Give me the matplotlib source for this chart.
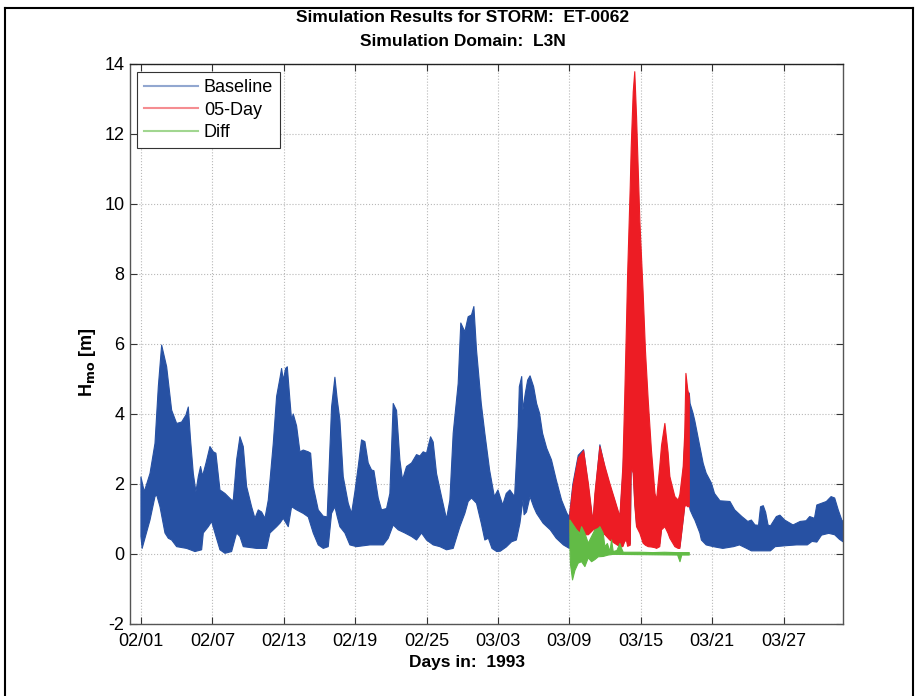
import numpy as np
import matplotlib.pyplot as plt
from matplotlib.lines import Line2D

plt.rcParams['font.family'] = ['Liberation Sans', 'DejaVu Sans']
plt.rcParams['axes.unicode_minus'] = False

# Days since 02/01/1993; each series is an envelope (upper / lower) of Hmo in metres
base_up_day = [0.0, 0.28, 0.76, 1.18, 1.46, 1.74, 2.16, 2.58, 3.0, 3.42, 3.78, 3.98, 4.17, 4.4,
               4.62, 4.82, 5.01, 5.18, 5.46, 5.8, 6.08, 6.3, 6.64, 7.06, 7.62, 7.76, 8.04, 8.32,
               8.6, 8.88, 9.3, 9.58, 9.86, 10.14, 10.42, 10.7, 11.12, 11.4, 11.68, 11.82, 11.96,
               12.16, 12.3, 12.52, 12.66, 12.8, 13.08, 13.36, 13.64, 14.06, 14.26, 14.48, 14.9,
               15.32, 15.65, 16.02, 16.3, 16.5, 16.72, 17.0, 17.42, 17.7, 17.98, 18.26, 18.54,
               18.82, 19.1, 19.38, 19.58, 19.94, 20.22, 20.64, 20.92, 21.2, 21.48, 21.76, 21.98,
               22.32, 22.74, 23.16, 23.44, 23.72, 24.0, 24.34, 24.56, 24.84, 25.26, 25.68, 25.96,
               26.24, 26.66, 26.88, 27.22, 27.5, 27.78, 27.98, 28.2, 28.6, 28.9, 29.3, 29.7, 30.0,
               30.4, 30.7, 31.0, 31.4, 31.7, 31.8, 32.0, 32.1, 32.3, 32.5, 32.7, 33.0, 33.25, 33.5,
               33.75, 34.1, 34.5, 34.9, 35.35, 35.8, 36.0,
               36.05, 36.3, 36.75, 37.2, 37.6, 37.9, 38.0, 38.15, 38.57, 39.0, 39.4, 39.83, 40.25,
               40.5, 40.65, 40.8, 40.9, 41.12, 41.2, 41.37, 41.5, 41.65, 41.93, 42.2, 42.4, 42.63,
               42.9, 43.2, 43.33, 43.6, 43.75, 44.03, 44.3, 44.45, 44.87, 45.15, 45.29, 45.57,
               45.7, 45.8, 45.95, 46.08,
               46.15, 46.4, 46.55, 46.97, 47.25, 47.5, 47.95, 48.2, 48.66, 49.5, 49.9, 50.5, 51.0,
               51.3, 51.6, 51.9, 52.07, 52.3, 52.5, 52.7, 52.9, 53.4, 53.7, 54.1, 54.8, 55.4, 55.9,
               56.2, 56.6, 56.8, 57.2, 57.6, 58.0, 58.3, 58.6, 58.9, 59.0]
base_up = [2.2, 1.78, 2.3, 3.16, 4.78, 5.97, 5.35, 4.11, 3.73, 3.77, 3.97, 4.2, 3.26, 2.3,
           1.78, 2.21, 2.5, 2.23, 2.59, 3.07, 2.92, 2.88, 1.83, 1.73, 1.54, 1.54, 2.69, 3.35,
           3.07, 1.93, 1.35, 1.02, 1.26, 1.2, 1.02, 1.54, 3.16, 4.5, 5.02, 5.3, 4.97,
           5.3, 5.35, 4.4, 3.83, 4.0, 3.66, 2.92, 2.97, 2.92, 2.88, 1.93, 1.26,
           1.08, 1.06, 4.2, 5.05, 4.4, 3.83, 2.21, 1.45, 1.16, 1.78, 2.5, 3.26,
           3.21, 2.6, 2.4, 2.38, 1.6, 1.26, 1.3, 1.73, 4.3, 4.1, 2.69, 2.12,
           2.5, 2.6, 2.84, 2.8, 2.92, 2.88, 3.35, 3.2, 2.3, 1.64, 1.0, 1.54,
           3.45, 4.87, 6.6, 6.35, 6.78, 6.83, 7.07, 5.83, 4.3, 3.45, 2.4, 1.64, 1.83,
           1.4, 1.73, 1.83, 1.64, 3.64, 4.78, 5.07, 4.11, 4.59, 4.97, 5.09, 4.78, 4.3, 4.02,
           3.45, 3.02, 2.69, 2.12, 1.54, 1.16, 1.07,
           1.2, 2.0, 2.82, 2.98, 1.9, 1.1, 0.95, 1.6, 3.12, 2.45, 1.95, 1.5, 1.0,
           2.3, 3.5, 4.0, 4.5, 5.5, 6.0, 6.5, 6.5, 6.0, 5.0, 4.0, 3.5, 3.0,
           2.5, 1.6, 1.45, 1.8, 2.0, 3.0, 2.6, 2.1, 1.55, 1.45, 1.5, 2.3,
           3.2, 3.8, 4.4, 4.6,
           4.3, 4.02, 3.8, 3.07, 2.59, 2.31, 2.02, 1.73, 1.52, 1.5, 1.26, 1.07, 0.93,
           0.97, 0.83, 0.82, 1.35, 1.38, 1.19, 0.83, 0.8, 1.07, 1.11, 0.97, 0.83, 0.93, 0.95,
           1.07, 1.02, 1.4, 1.45, 1.5, 1.64, 1.6, 1.26, 0.97, 0.93]

base_lo_day = [0.0, 0.1, 0.76, 1.18, 1.32, 1.6, 2.02, 2.3, 2.58, 3.0, 3.84, 4.54, 5.1, 5.24,
               5.66, 5.94, 6.22, 6.64, 7.06, 7.62, 8.04, 8.32, 8.6, 9.72, 10.56, 10.84, 11.4,
               11.68, 11.96, 12.38, 12.66, 13.08, 13.64, 14.06, 14.48, 14.9, 15.32, 15.74, 16.02,
               16.3, 16.5, 16.72, 17.14, 17.56, 18.12, 19.24, 20.36, 20.78, 21.2, 21.62, 22.18,
               22.74, 23.16, 23.58, 24.0, 24.56, 25.12, 25.68, 26.24, 26.8, 27.22, 27.5, 27.78,
               28.2, 28.6, 28.9, 29.2, 29.5, 29.9, 30.2, 30.7, 31.15, 31.55, 31.85, 32.1, 32.2,
               32.4, 32.7, 33.0, 33.25, 33.8, 34.4, 34.9, 35.5, 36.0,
               36.05, 36.3, 36.75, 37.2, 37.6, 37.9, 38.0, 38.15, 38.57, 39.0, 39.4, 39.83, 40.25,
               40.5, 40.65, 40.8, 40.9, 41.12, 41.2, 41.37, 41.5, 41.65, 41.93, 42.2, 42.4, 42.63,
               42.9, 43.2, 43.33, 43.6, 43.75, 44.03, 44.3, 44.45, 44.87, 45.15, 45.29, 45.57,
               45.7, 45.8, 45.95, 46.08,
               46.15, 46.4, 46.55, 46.97, 47.1, 47.5, 48.1, 48.9, 49.8, 50.3, 50.9, 51.3, 52.9,
               53.3, 54.3, 55.1, 56.0, 56.4, 56.8, 57.2, 57.8, 58.3, 58.7, 59.0]
base_lo = [0.5, 0.16, 0.97, 1.64, 1.69, 1.35, 0.6, 0.45, 0.4, 0.21, 0.16, 0.07, 0.12, 0.6,
           0.78, 0.93, 0.6, 0.12, 0.02, 0.07, 0.6, 0.5, 0.21, 0.16, 0.16, 0.6, 0.78,
           0.88, 1.02, 0.78, 1.35, 1.26, 1.16, 1.06, 0.6, 0.26, 0.16, 0.21, 1.16,
           1.35, 1.06, 0.78, 0.6, 0.26, 0.21, 0.26, 0.26, 0.45, 0.83, 0.69, 0.6,
           0.5, 0.4, 0.6, 0.4, 0.26, 0.21, 0.12, 0.16, 0.78, 1.16, 1.5, 1.6,
           1.45, 0.88, 0.4, 0.45, 0.16, 0.07, 0.08, 0.2, 0.35, 0.4, 0.88, 1.55, 1.12,
           1.2, 1.64, 1.35, 1.16, 0.88, 0.69, 0.45, 0.26, 0.16,
           0.6, 0.65, 0.7, 0.6, 0.6, 0.7, 0.72, 0.72, 0.7, 0.6, 0.45, 0.35, 0.25,
           0.25, 0.4, 0.45, 0.3, 0.3, 2.6, 2.4, 1.5, 0.85, 0.65, 0.4, 0.3, 0.3,
           0.25, 0.22, 0.2, 0.3, 0.75, 0.85, 0.65, 0.5, 0.3, 0.2, 0.2, 1.0,
           1.4, 1.45, 1.4, 1.4,
           1.26, 1.07, 0.97, 0.6, 0.4, 0.26, 0.21, 0.16, 0.21, 0.26, 0.16, 0.09, 0.09,
           0.21, 0.24, 0.26, 0.26, 0.36, 0.34, 0.54, 0.59, 0.55, 0.42, 0.35]

day5_day = [36.05, 36.3, 36.75, 37.2, 37.6, 37.9, 38.0, 38.15, 38.57, 39.0, 39.4, 39.83, 40.25,
            40.5, 40.65, 40.8, 40.9, 41.12, 41.2, 41.37, 41.5, 41.65, 41.93, 42.2, 42.4, 42.63,
            42.9, 43.2, 43.33, 43.6, 43.75, 44.03, 44.3, 44.45, 44.87, 45.15, 45.29, 45.57,
            45.7, 45.8, 45.95, 46.08]
day5_up = [1.16, 1.92, 2.74, 2.95, 2.02, 1.16, 0.97, 1.73, 3.07, 2.5, 2.02, 1.54, 1.07,
           2.5, 4.4, 6.5, 8.0, 10.5, 11.6, 13.2, 13.78, 12.5, 9.5, 7.5, 5.8, 4.4,
           2.97, 1.73, 1.54, 2.5, 3.1, 3.73, 2.9, 2.21, 1.64, 1.54, 1.7, 2.5,
           3.45, 5.16, 4.7, 4.5]
day5_lo = [0.6, 0.6, 0.65, 0.55, 0.55, 0.65, 0.69, 0.69, 0.65, 0.55, 0.4, 0.3, 0.21,
           0.21, 0.35, 0.4, 0.22, 0.25, 2.5, 2.3, 1.4, 0.78, 0.59, 0.31, 0.25, 0.21,
           0.2, 0.18, 0.16, 0.21, 0.69, 0.78, 0.59, 0.45, 0.21, 0.16, 0.16, 0.97,
           1.35, 1.4, 1.35, 1.35]

diff_up_day = [36.05, 36.33, 36.61, 36.89, 37.03, 37.31, 37.59, 37.87, 38.15, 38.43, 38.57,
               38.85, 38.99, 39.2, 39.41, 39.55, 39.69, 40.0, 40.25, 40.39, 40.53, 41.0, 42.0,
               43.0, 44.0, 45.0, 46.08]
diff_up = [0.97, 0.83, 0.69, 0.59, 0.78, 0.59, 0.31, 0.5, 0.69, 0.73, 0.78,
           0.59, 0.21, 0.3, 0.07, 0.4, 0.07, 0.1, 0.3, 0.16, 0.05, 0.05, 0.05,
           0.04, 0.05, 0.04, 0.04]
diff_lo_day = [36.05, 36.1, 36.27, 36.47, 36.75, 37.03, 37.31, 37.59, 37.87, 38.15, 38.43,
               38.85, 39.27, 39.69, 45.1, 45.3, 45.45, 46.08]
diff_lo = [0.21, -0.3, -0.74, -0.47, -0.26, -0.22, -0.36, -0.11, -0.22, -0.16, -0.08,
           -0.07, -0.03, -0.01, -0.03, -0.22, -0.03, -0.03]

tick_days = [0, 6, 12, 18, 24, 30, 36, 42, 48, 54]
tick_labels = ['02/01', '02/07', '02/13', '02/19', '02/25',
               '03/03', '03/09', '03/15', '03/21', '03/27']

BLUE = '#2751a3'
RED = '#ed1c24'
GREEN = '#62bb46'


def envelope(ax, d_up, v_up, d_lo, v_lo, color):
    xs = np.r_[d_up, d_lo[::-1]]
    ys = np.r_[v_up, v_lo[::-1]]
    ax.fill(xs, ys, color=color, edgecolor=color, linewidth=0.8, joinstyle='round')


fig = plt.figure(figsize=(9.19, 6.96), dpi=100)
ax = fig.add_axes([130 / 919, 1 - 624 / 696, (843 - 130) / 919, (624 - 64) / 696])

envelope(ax, base_up_day, base_up, base_lo_day, base_lo, BLUE)
envelope(ax, day5_day, day5_up, day5_day, day5_lo, RED)
envelope(ax, diff_up_day, diff_up, diff_lo_day, diff_lo, GREEN)

ax.set_xlim(-0.92, 59.0)
ax.set_ylim(-2, 14)
ax.set_xticks(tick_days)
ax.set_xticklabels(tick_labels)
ax.set_yticks(np.arange(-2, 15, 2))
ax.tick_params(direction='in', length=5, width=0.8, labelsize=13, color='#333333',
               top=True, right=True, pad=4)
ax.tick_params(axis='x', pad=6.5)
ax.grid(True, linestyle=':', color='#b8b8b8', linewidth=0.8)
ax.set_axisbelow(True)
for sp in ax.spines.values():
    sp.set_color('#555555')
    sp.set_linewidth(1.0)
ax.spines['top'].set_color('#222222')

handles = [Line2D([], [], color=BLUE, alpha=0.5, lw=1.5),
           Line2D([], [], color=RED, alpha=0.5, lw=1.5),
           Line2D([], [], color=GREEN, alpha=0.6, lw=1.5)]
leg = ax.legend(handles, ['Baseline', '05-Day', 'Diff'], loc='upper left',
                bbox_to_anchor=(7 / 713, 1 - 8 / 560), borderaxespad=0, fontsize=13,
                handlelength=3.0, handletextpad=0.3, labelspacing=0.3,
                borderpad=0.4, fancybox=False, framealpha=1)
leg.get_frame().set_edgecolor('#333333')
leg.get_frame().set_linewidth(0.8)

fig.text(463 / 919, 1 - 17 / 696, 'Simulation Results for STORM:  ET-0062',
         ha='center', va='center', fontsize=12.5, fontweight='bold')
fig.text(463 / 919, 1 - 41 / 696, 'Simulation Domain:  L3N',
         ha='center', va='center', fontsize=12.5, fontweight='bold')
fig.text(467 / 919, 1 - 662 / 696, 'Days in:  1993',
         ha='center', va='center', fontsize=12.5, fontweight='bold')
fig.text(88 / 919, 1 - 362 / 696, r'H$_{\mathbf{mo}}$ [m]', rotation=90,
         ha='center', va='center', fontsize=13, fontweight='bold')

# outer frame
for xs, ys in [([5, 5], [8, 696]), ([5, 913], [8, 8]), ([913, 913], [8, 696])]:
    fig.add_artist(Line2D([x / 919 for x in xs], [1 - y / 696 for y in ys],
                          color='black', linewidth=1.5))

fig.savefig('out.png', dpi=100)
